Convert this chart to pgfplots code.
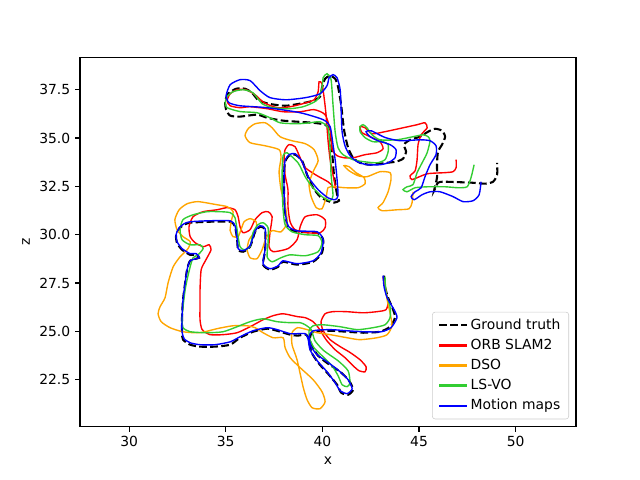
\documentclass[border=0pt]{standalone}
\usepackage{fontspec}
\setmainfont{DejaVu Sans}
\usepackage{pgfplots}
\pgfplotsset{compat=1.18}
\definecolor{mplorange}{HTML}{FFA500}
\definecolor{mplgreen}{HTML}{32CD32}
\definecolor{legframe}{HTML}{CCCCCC}
\begin{document}
\begin{tikzpicture}
\begin{axis}[
 scale only axis, width=357.1pt, height=265.7pt,
 xmin=27.46, xmax=53.12, ymin=20.07, ymax=39.16,
 xtick={30,35,40,45,50}, ytick={22.5,25,27.5,30,32.5,35,37.5},
 yticklabel style={/pgf/number format/.cd, fixed, fixed zerofill, precision=1},
 /pgf/number format/assume math mode=true,
 tick align=outside, xtick pos=left, ytick pos=left,
 major tick length=3.5pt,
 tick style={black, line width=0.8pt},
 axis line style={line width=0.8pt},
 xlabel={x}, ylabel={z},
 tick label style={font=\fontsize{10}{12}\selectfont},
 label style={font=\fontsize{10}{12}\selectfont},
 legend style={at={(0.986,0.02)}, anchor=south east, draw=legframe, rounded corners=2pt, font=\fontsize{10}{12}\selectfont, row sep=1.5pt, inner xsep=4pt, inner ysep=3pt},
 legend cell align=left,
 legend image code/.code={\draw[#1, sharp corners] (0pt,0pt) -- (20pt,0pt);},
 legend image post style={line width=1.6pt},
]
\addplot[black, line width=1.5pt, dash pattern=on 5.55pt off 2.4pt, smooth, tension=0.4] coordinates {
(43.19,27.88) (43.24,27.31) (43.40,26.74) (43.66,26.12) (43.76,25.71) (43.50,25.24) (42.98,24.98) (42.11,24.93) (41.28,24.98) (40.40,25.03) (39.52,24.98) (39.36,24.67) (39.47,24.21) (39.78,23.74) (40.29,23.33) (40.92,22.91) (41.38,22.45) (41.59,21.98) (41.33,21.72) (40.97,21.83) (40.76,22.24) (40.29,22.81) (39.78,23.38) (39.42,23.95) (39.31,24.57) (39.16,24.83) (38.72,24.78) (38.33,24.83) (37.66,25.03) (37.14,25.14) (36.41,24.98) (35.74,24.67) (35.23,24.31) (34.45,24.21) (33.67,24.21) (33.16,24.31) (32.79,24.57) (32.74,24.93) (32.74,25.76) (32.79,26.64) (32.90,27.51) (33.00,28.19) (33.16,28.65) (33.62,28.81) (33.47,28.96) (33.16,28.96) (32.74,29.22) (32.48,29.57) (32.43,29.95) (32.59,30.31) (32.85,30.52) (33.16,30.62) (34.12,30.67) (35.23,30.67) (35.48,30.41) (35.59,29.74) (35.64,29.22) (35.90,29.12) (36.26,29.38) (36.52,30.15) (36.78,30.41) (37.04,30.26) (37.04,29.22) (36.93,28.45) (37.29,28.19) (37.71,28.34) (37.97,28.60) (38.69,28.45) (39.52,28.60) (39.98,29.07) (40.04,29.74) (39.73,30.10) (38.69,30.15) (38.22,30.41) (38.07,31.19) (38.02,32.07) (38.02,33.10) (38.07,33.78) (38.28,34.09) (38.59,34.14) (38.95,33.83) (39.21,33.10) (39.52,32.43) (39.88,31.97) (40.24,31.76) (40.60,31.66) (40.86,31.76) (40.76,32.07) (40.60,33.10) (40.50,34.29) (40.35,35.43) (40.14,35.69) (39.52,35.79) (37.97,35.90) (37.14,36.05) (36.62,36.21) (35.74,36.11) (35.23,36.16) (35.02,36.47) (34.97,36.88) (35.12,37.29) (35.54,37.55) (36.00,37.55) (36.36,37.34) (36.67,36.98) (37.19,36.78) (38.07,36.67) (38.85,36.78) (39.52,36.93) (39.88,37.14) (39.98,37.60) (40.14,38.07) (40.40,38.22) (40.66,38.07) (40.81,37.66) (40.97,36.72) (41.12,35.43) (41.33,34.50) (41.59,33.98) (41.95,33.72) (42.47,33.62) (43.35,33.72) (43.81,33.78) (44.17,33.93) (44.33,34.29) (44.22,34.66) (44.54,34.91) (45.05,35.07) (45.47,35.33) (45.83,35.48) (46.19,35.38) (46.35,35.07) (46.19,34.66) (45.98,34.29) (45.93,33.62) (45.93,32.95) (45.78,32.28) (45.98,32.69) (46.35,32.74) (47.74,32.69) (48.42,32.64) (48.83,32.74) (49.04,33.10) (49.04,33.72)
};
\addlegendentry{Ground truth}
\addplot[red, line width=1pt, smooth, tension=0.4] coordinates {
(43.14,27.83) (43.24,27.26) (43.40,26.53) (43.29,26.12) (42.83,26.02) (42.11,25.96) (41.23,26.02) (40.55,26.02) (40.14,25.91) (39.93,25.50) (40.04,25.03) (40.40,24.57) (40.92,24.21) (41.43,23.91) (41.95,23.53) (42.26,23.17) (42.21,22.91) (41.90,22.96) (41.59,23.22) (41.17,23.64) (40.66,24.05) (40.19,24.57) (39.83,25.14) (39.52,25.50) (39.11,25.71) (38.72,25.76) (37.97,25.91) (37.45,25.81) (36.93,25.60) (36.26,25.24) (35.59,24.93) (34.86,24.83) (34.19,24.83) (33.78,25.09) (33.67,25.60) (33.67,26.38) (33.67,27.15) (33.73,28.19) (33.98,28.71) (34.24,29.22) (34.14,29.48) (33.83,29.38) (33.41,29.59) (33.16,29.90) (33.10,30.41) (33.31,30.93) (33.83,31.19) (34.55,31.29) (35.07,31.40) (35.48,31.29) (35.64,30.93) (35.74,30.41) (35.90,30.10) (36.26,30.26) (36.52,30.78) (36.88,31.14) (37.19,31.19) (37.40,30.93) (37.29,30.10) (37.24,29.38) (37.45,29.12) (38.22,29.28) (38.69,29.74) (38.85,30.41) (39.11,30.93) (39.73,31.03) (40.14,30.78) (40.14,30.36) (39.88,30.10) (39.21,30.10) (38.59,30.26) (38.33,30.67) (38.22,31.45) (38.22,32.33) (38.07,33.10) (38.02,33.88) (38.07,34.40) (38.28,34.66) (38.59,34.55) (38.85,33.98) (39.11,33.47) (39.73,33.05) (40.29,32.74) (40.66,32.43) (40.55,33.10) (40.40,33.88) (40.29,34.91) (40.19,36.21) (40.09,37.09) (39.98,37.81) (39.83,37.91) (39.78,37.40) (39.57,36.98) (39.00,36.78) (38.33,36.62) (37.66,36.57) (36.98,36.83) (36.52,37.24) (36.05,37.50) (35.59,37.50) (35.23,37.29) (35.07,36.93) (35.23,36.67) (35.74,36.57) (36.26,36.62) (37.14,36.52) (37.97,36.36) (38.85,36.36) (39.57,36.47) (40.14,36.21) (40.40,35.43) (40.50,34.40) (40.76,34.09) (41.12,33.98) (41.59,33.98) (42.21,34.14) (42.83,34.24) (43.14,34.45) (42.98,34.81) (42.47,35.07) (42.05,35.28) (41.95,35.59) (42.21,35.53) (42.57,35.22) (43.24,35.33) (44.17,35.53) (44.90,35.69) (45.31,35.79) (45.42,35.53) (45.11,35.17) (44.95,34.66) (44.90,33.88) (44.80,33.31) (44.54,33.05) (44.64,32.85) (45.42,33.15) (46.35,33.21) (46.76,33.26) (46.92,33.47) (46.92,33.88)
};
\addlegendentry{ORB SLAM2}
\addplot[mplorange, line width=1pt, smooth, tension=0.4] coordinates {
(43.14,27.77) (43.24,27.41) (43.35,26.64) (43.50,25.96) (43.60,25.29) (43.35,24.83) (42.83,24.67) (41.95,24.57) (41.28,24.67) (40.40,24.83) (39.73,24.93) (39.21,25.09) (38.72,25.19) (38.43,24.93) (38.43,24.31) (38.69,23.53) (39.00,22.14) (39.21,21.46) (39.47,21.05) (39.88,21.00) (40.14,21.36) (39.98,21.88) (39.52,22.50) (38.85,23.12) (38.33,23.64) (38.07,24.16) (37.97,24.67) (37.45,24.67) (36.93,24.93) (36.52,25.19) (36.11,25.29) (35.38,25.29) (34.55,25.14) (33.67,24.93) (32.79,24.98) (32.12,25.19) (31.66,25.50) (31.50,25.91) (31.60,26.27) (31.86,26.74) (32.02,27.52) (32.28,28.34) (32.64,28.86) (33.05,29.28) (33.16,29.64) (32.79,29.90) (32.48,30.26) (32.37,30.78) (32.59,31.29) (33.00,31.60) (33.57,31.71) (34.55,31.55) (35.07,31.45) (35.38,31.19) (35.28,30.67) (35.23,30.21) (35.38,29.90) (35.64,29.90) (35.79,30.26) (35.95,30.67) (36.26,30.83) (36.57,30.67) (36.57,30.26) (36.21,29.74) (36.11,29.22) (36.26,28.81) (36.62,28.76) (36.88,29.22) (37.09,29.84) (37.40,30.21) (37.86,30.15) (38.17,30.62) (38.07,31.55) (37.86,32.33) (37.76,33.26) (37.86,33.98) (37.76,34.40) (37.04,34.60) (36.26,34.76) (36.00,35.12) (36.16,35.48) (36.52,35.74) (37.04,35.79) (37.40,35.53) (37.81,35.07) (38.43,34.86) (39.11,34.71) (39.57,34.40) (39.78,33.83) (39.52,33.26) (39.31,32.64) (39.42,31.97) (39.68,31.40) (39.98,31.34) (40.19,31.91) (40.29,32.43) (40.60,32.48) (41.17,32.43) (41.85,32.43) (42.21,32.64) (42.16,32.95) (41.74,33.21) (41.38,33.52) (41.12,33.57) (41.38,33.31) (41.85,33.05) (42.31,33.00) (42.98,33.26) (43.50,33.21) (43.55,32.85) (43.40,32.22) (43.14,31.66) (42.88,31.40) (43.09,31.24) (43.86,31.29) (44.48,31.34) (44.64,31.66) (44.69,32.22)
};
\addlegendentry{DSO}
\addplot[mplgreen, line width=1pt, smooth, tension=0.4] coordinates {
(43.24,27.83) (43.29,27.00) (43.50,26.28) (43.50,25.71) (43.24,25.34) (42.62,25.19) (41.80,25.09) (40.92,25.24) (40.04,25.34) (39.52,25.29) (39.31,25.03) (39.36,24.57) (39.57,24.15) (39.98,23.74) (40.50,23.22) (40.81,22.71) (41.02,22.24) (41.28,22.14) (41.43,22.34) (41.33,22.96) (40.81,23.48) (40.09,23.99) (39.62,24.51) (39.42,25.09) (39.11,25.34) (38.85,25.45) (38.33,25.45) (37.66,25.50) (36.93,25.65) (36.26,25.50) (35.59,25.24) (34.86,24.98) (34.03,24.93) (33.16,24.98) (32.79,25.19) (32.74,25.60) (32.79,26.27) (32.90,27.15) (33.00,27.67) (33.16,28.34) (33.31,28.81) (33.57,28.96) (33.83,29.28) (33.67,29.48) (33.16,29.48) (32.74,29.74) (32.64,30.26) (32.79,30.78) (33.31,31.03) (34.03,31.19) (34.71,31.19) (35.23,31.14) (35.48,30.88) (35.64,29.90) (35.74,29.38) (35.95,29.22) (36.26,29.38) (36.41,30.10) (36.67,30.52) (36.93,30.62) (37.19,30.36) (37.19,29.59) (37.14,28.86) (37.40,28.60) (37.86,28.81) (38.33,28.96) (39.11,28.91) (39.78,29.12) (39.98,29.59) (39.78,29.95) (39.11,30.00) (38.43,30.15) (38.07,30.52) (37.97,31.29) (37.92,32.33) (37.92,33.36) (37.97,34.09) (38.17,34.24) (38.74,33.72) (39.11,33.00) (39.47,32.48) (39.98,31.97) (40.40,31.76) (40.55,32.02) (40.45,33.10) (40.40,34.40) (40.29,35.53) (39.88,35.84) (39.36,35.79) (38.69,35.74) (37.81,35.79) (37.29,36.05) (36.62,36.31) (35.74,36.37) (35.07,36.57) (34.97,36.83) (35.07,37.14) (35.38,37.40) (35.90,37.50) (36.41,37.34) (36.88,36.78) (37.45,36.57) (38.33,36.52) (39.00,36.62) (39.52,36.83) (39.78,37.03) (39.98,37.60) (40.04,38.12) (40.24,38.33) (40.45,38.02) (40.55,36.72) (40.66,35.33) (40.81,34.50) (41.07,34.14) (41.59,33.88) (42.11,33.78) (42.83,33.72) (43.24,33.88) (43.40,34.29) (43.40,34.66) (43.14,34.81) (42.62,34.81) (42.21,35.02) (41.95,35.33) (41.95,35.59) (42.11,35.69) (42.31,35.53) (42.57,35.17) (42.98,34.91) (43.86,34.91) (44.69,35.07) (45.21,35.17) (45.47,35.07) (45.57,34.86) (45.42,34.24) (45.16,33.72) (44.90,33.21) (44.69,32.59) (44.38,32.48) (44.17,32.33) (44.38,32.22) (44.80,32.43) (45.47,32.48) (46.35,32.48) (47.02,32.43) (47.49,32.48) (47.69,32.95) (47.85,33.62)
};
\addlegendentry{LS-VO}
\addplot[blue, line width=1pt, smooth, tension=0.4] coordinates {
(43.14,27.88) (43.19,27.31) (43.35,26.74) (43.71,26.12) (43.86,25.71) (43.55,25.19) (43.04,24.98) (42.11,24.98) (41.28,25.03) (40.40,25.09) (39.52,25.03) (39.31,24.72) (39.42,24.21) (39.73,23.79) (40.24,23.43) (40.86,22.96) (41.33,22.50) (41.54,22.03) (41.28,21.78) (40.92,21.93) (40.66,22.34) (40.24,22.91) (39.73,23.48) (39.36,24.05) (39.26,24.62) (39.11,24.88) (38.72,24.88) (38.33,24.88) (37.66,25.09) (37.14,25.19) (36.41,25.03) (35.74,24.72) (35.23,24.46) (34.45,24.31) (33.67,24.31) (33.16,24.41) (32.85,24.62) (32.74,24.98) (32.74,25.76) (32.79,26.64) (32.90,27.52) (33.00,28.19) (33.16,28.65) (33.62,28.81) (33.47,29.02) (33.16,29.02) (32.74,29.28) (32.48,29.64) (32.43,30.00) (32.59,30.36) (32.85,30.57) (33.16,30.67) (34.12,30.72) (35.23,30.72) (35.48,30.46) (35.59,29.79) (35.64,29.28) (35.90,29.17) (36.26,29.43) (36.52,30.20) (36.78,30.46) (37.04,30.31) (37.04,29.28) (36.93,28.50) (37.29,28.24) (37.71,28.39) (37.97,28.65) (38.69,28.50) (39.52,28.65) (39.93,29.07) (40.04,29.74) (39.73,30.15) (38.69,30.20) (38.22,30.46) (38.07,31.24) (38.02,32.07) (38.02,33.10) (38.07,33.83) (38.28,34.14) (38.59,34.19) (38.95,33.78) (39.26,33.00) (39.78,32.33) (40.29,31.91) (40.66,31.81) (40.81,32.02) (40.76,32.85) (40.66,33.88) (40.55,34.66) (40.40,35.59) (40.04,35.95) (38.85,36.31) (37.14,36.57) (35.74,36.67) (35.17,36.83) (35.02,37.19) (35.23,37.76) (35.74,38.02) (36.26,37.97) (36.78,37.45) (37.29,37.09) (38.12,36.98) (39.13,37.09) (39.88,37.29) (40.24,37.71) (40.35,38.12) (40.55,38.28) (40.76,38.12) (40.92,37.50) (40.97,36.47) (41.02,35.33) (41.17,34.60) (41.43,34.09) (41.80,33.78) (42.31,33.62) (42.98,33.62) (43.40,33.72) (43.76,33.98) (43.81,34.40) (43.50,34.66) (42.88,34.86) (42.47,35.07) (42.26,35.33) (42.52,35.38) (43.24,35.03) (44.02,34.86) (45.05,34.91) (45.57,34.86) (45.88,34.60) (45.88,34.14) (45.57,33.62) (45.31,33.00) (45.11,32.43) (44.80,32.22) (44.59,31.97) (44.75,31.81) (45.16,32.07) (45.57,32.22) (46.09,32.22) (46.76,31.97) (47.28,31.71) (47.80,31.76) (48.11,32.07) (48.21,32.74)
};
\addlegendentry{Motion maps}
\end{axis}
\path ([shift={(-57.6pt,-38pt)}]current axis.south west) rectangle ([shift={(46.1pt,41.5pt)}]current axis.north east);
\end{tikzpicture}
\end{document}
